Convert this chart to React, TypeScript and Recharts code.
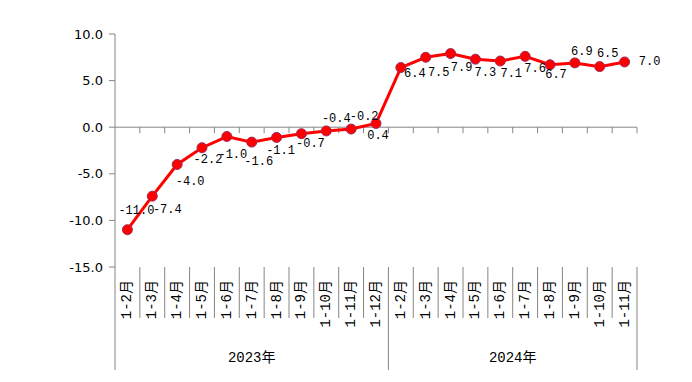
import { LabelList, Line, LineChart, ReferenceLine, XAxis, YAxis } from 'recharts';

const years = ['2023年', '2024年'];
const months2023 = ['1-2月', '1-3月', '1-4月', '1-5月', '1-6月', '1-7月', '1-8月', '1-9月', '1-10月', '1-11月', '1-12月'];
const months2024 = ['1-2月', '1-3月', '1-4月', '1-5月', '1-6月', '1-7月', '1-8月', '1-9月', '1-10月', '1-11月'];
const values2023 = [-11.0, -7.4, -4.0, -2.2, -1.0, -1.6, -1.1, -0.7, -0.4, -0.2, 0.4];
const values2024 = [6.4, 7.5, 7.9, 7.3, 7.1, 7.6, 6.7, 6.9, 6.5, 7.0];
const yTicks = [-15, -10, -5, 0, 5, 10];

const data = [
  ...months2023.map((m, i) => ({ month: m, year: years[0], value: values2023[i], first: i === 0, size: months2023.length })),
  ...months2024.map((m, i) => ({ month: m, year: years[1], value: values2024[i], first: i === 0, size: months2024.length })),
];

// label placement relative to each point (text centre), like the Excel original
const labelOffsets = [
  [9, -19], [15, 14], [13, 18], [6, 12], [6, 18], [7, 20], [4, 14], [9, 10], [10, -12], [13, -12], [2, 13],
  [14, 6], [13, 16], [11, 14], [10, 14], [11, 13], [10, 13], [6, 10], [7, -11], [8, -13], [25, 0],
];

const AXIS = '#868686';
const MONO = "'Liberation Mono', 'Noto Sans CJK SC', monospace";
const PLOT_W = 522;
const BAND = PLOT_W / data.length;

function CategoryTick(props: any) {
  const { x, y, index } = props;
  const half = BAND / 2;
  const row = data[index];
  const left = x - half;
  return (
    <g>
      <line x1={left} y1={y} x2={left} y2={row.first ? y + 103 : y + 51} stroke={AXIS} />
      {index === data.length - 1 && (
        <line x1={x + half} y1={y} x2={x + half} y2={y + 103} stroke={AXIS} />
      )}
      <text
        x={x}
        y={y + 13}
        transform={`rotate(-90, ${x}, ${y + 13})`}
        textAnchor="end"
        dominantBaseline="central"
        fontSize={14}
        fontFamily={MONO}
        fill="#000"
      >
        {row.month}
      </text>
      {row.first && (
        <text
          x={left + row.size * half}
          y={y + 95}
          textAnchor="middle"
          fontSize={14}
          fontFamily={MONO}
          fill="#000"
        >
          {row.year}
        </text>
      )}
    </g>
  );
}

function ZeroAxis(props: any) {
  const { x1, y1, x2 } = props;
  const step = (x2 - x1) / data.length;
  return (
    <g>
      <line x1={x1} y1={y1} x2={x2} y2={y1} stroke={AXIS} />
      {data.map((_, i) => (
        <line key={i} x1={x1 + (i + 1) * step} y1={y1} x2={x1 + (i + 1) * step} y2={y1 + 6} stroke={AXIS} />
      ))}
    </g>
  );
}

function ValueLabel(props: any) {
  const { x, y, value, index } = props;
  const [dx, dy] = labelOffsets[index] || [10, 12];
  return (
    <text
      x={x + dx}
      y={y + dy}
      textAnchor="middle"
      dominantBaseline="central"
      fontSize={12}
      fontFamily={MONO}
      fill="#000"
    >
      {Number(value).toFixed(1)}
    </text>
  );
}

export default function App() {
  return (
    <div style={{ position: 'absolute', left: 0, top: 0, background: '#fff' }}>
      <LineChart width={692} height={382} data={data} margin={{ top: 34, right: 55, bottom: 0, left: 0 }}>
        <XAxis
          dataKey="month"
          interval={0}
          height={115}
          padding={{ left: BAND / 2, right: BAND / 2 }}
          axisLine={false}
          tickLine={false}
          tickSize={0}
          tickMargin={0}
          tick={<CategoryTick />}
        />
        <YAxis
          width={115}
          domain={[-15, 10]}
          ticks={yTicks}
          tickFormatter={(v: number) => v.toFixed(1)}
          axisLine={{ stroke: AXIS }}
          tickLine={{ stroke: AXIS }}
          tickSize={6}
          tickMargin={6}
          tick={{ fill: '#000', fontSize: 13, fontFamily: 'DejaVu Sans' }}
        />
        <ReferenceLine y={0} shape={<ZeroAxis />} />
        <Line
          dataKey="value"
          stroke="#ff0000"
          strokeWidth={3}
          dot={{ r: 5, fill: '#ff0000', stroke: '#9b2c5c', strokeWidth: 1 }}
          isAnimationActive={false}
        >
          <LabelList dataKey="value" content={<ValueLabel />} />
        </Line>
      </LineChart>
    </div>
  );
}
